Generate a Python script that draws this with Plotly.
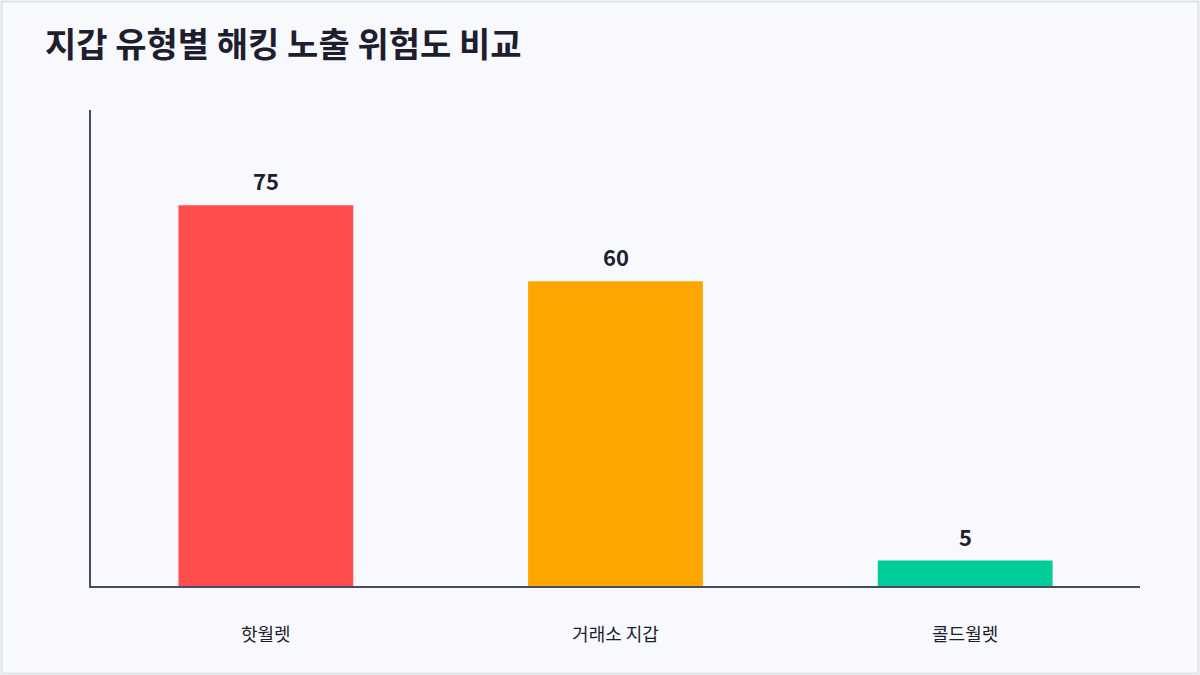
import plotly.graph_objects as go

# data
wallet_types = ["핫월렛", "거래소 지갑", "콜드월렛"]
risk_scores = [75, 60, 5]
bar_colors = ["#FF4D4D", "#FFA500", "#00CC99"]

W, H = 1200, 675
ml, mr, mt, mb = 91, 60, 110, 89
font_family = "Noto Sans CJK KR, Noto Sans, sans-serif"

fig = go.Figure()
fig.add_trace(go.Bar(
    x=wallet_types,
    y=risk_scores,
    marker=dict(color=bar_colors, line=dict(width=0)),
    width=0.5,
    hoverinfo="x+y",
))

# value labels above the bars
for cat, val in zip(wallet_types, risk_scores):
    fig.add_annotation(
        x=cat, y=val, text=f"<b>{val}</b>", showarrow=False,
        yanchor="bottom", yshift=7,
        font=dict(size=22, color="#1E1E2E", family=font_family),
    )

fig.update_layout(
    width=W, height=H,
    margin=dict(l=ml, r=mr, t=mt, b=mb),
    paper_bgcolor="#F8F9FC",
    plot_bgcolor="#F8F9FC",
    font=dict(family=font_family, color="#1E1E2E"),
    title=dict(
        text="<b>지갑 유형별 해킹 노출 위험도 비교</b>",
        x=45 / W, xanchor="left",
        y=1 - 45 / H, yanchor="middle",
        font=dict(size=34, color="#1E1E2E"),
    ),
    showlegend=False,
    bargap=0.5,
)

fig.update_xaxes(
    showline=True, linecolor="#4A4A65", linewidth=2,
    showgrid=False, ticks="", ticklabelstandoff=31,
    tickfont=dict(size=18, color="#1E1E2E"),
)
fig.update_yaxes(
    range=[0, max(risk_scores) * 1.25],
    showline=True, linecolor="#4A4A65", linewidth=2,
    showgrid=False, zeroline=False, showticklabels=False, ticks="",
)

# frame around the whole card
pw, ph = W - ml - mr, H - mt - mb
fig.add_shape(
    type="rect", xref="paper", yref="paper",
    x0=(1.5 - ml) / pw, x1=(W - 1.5 - ml) / pw,
    y0=(1.5 - mb) / ph, y1=(H - 1.5 - mb) / ph,
    line=dict(color="#E0E3EA", width=2), fillcolor="rgba(0,0,0,0)", layer="below",
)

fig.write_html(
    "out.html",
    config=dict(displayModeBar=False),
    post_script="document.body.style.margin='0';",
)
